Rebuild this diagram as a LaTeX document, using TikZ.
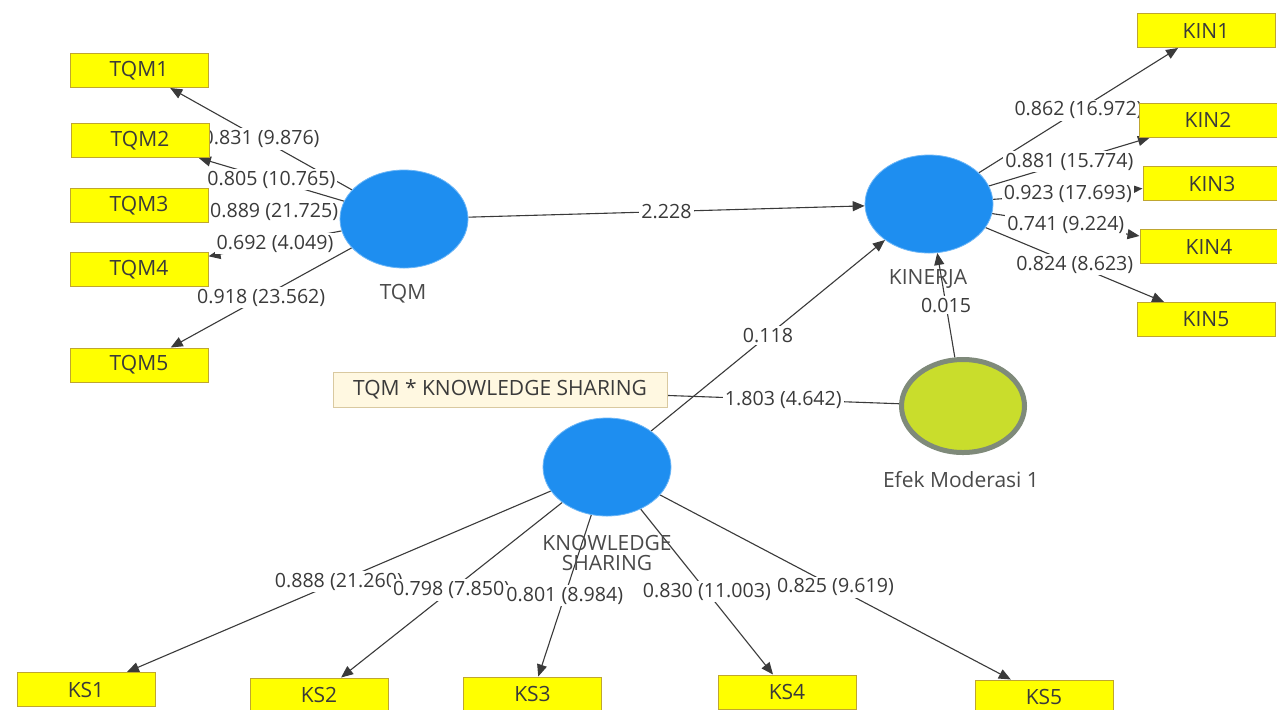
\documentclass[tikz,border=0pt]{standalone}
\usepackage{fontspec}
\setmainfont{Open Sans}
\usetikzlibrary{positioning, arrows.meta, shapes.geometric, backgrounds}
\definecolor{indfill}{HTML}{FFFF00}
\definecolor{indline}{HTML}{BFA630}
\definecolor{latblue}{HTML}{1E8EF0}
\definecolor{latedge}{HTML}{6CB6F7}
\definecolor{modfill}{HTML}{C9DD2C}
\definecolor{modline}{HTML}{7F8A7A}
\definecolor{termfill}{HTML}{FFF8E1}
\definecolor{termline}{HTML}{D9C9A0}
\definecolor{ink}{HTML}{3A3A3A}
\definecolor{namegray}{HTML}{4A4A4A}

\begin{document}
\begin{tikzpicture}[x=0.5pt, y=-0.5pt,
    every node/.style={font=\fontsize{10.5}{10}\selectfont, text=ink},
    indbox/.style={rectangle, draw=indline, fill=indfill, line width=0.5pt,
      minimum width=69pt, minimum height=17pt, inner sep=0pt},
    latent/.style={ellipse, draw=latedge, fill=latblue, line width=0.4pt,
      minimum width=64pt, minimum height=49pt, inner sep=0pt},
    modlatent/.style={ellipse, draw=modline, fill=modfill, line width=2.5pt,
      minimum width=61.5pt, minimum height=46.5pt, inner sep=0pt},
    termbox/.style={rectangle, draw=termline, fill=termfill, line width=0.5pt,
      minimum width=167pt, minimum height=17.5pt, inner sep=0pt},
    latname/.style={text=namegray},
    link/.style={draw=ink, line width=0.55pt, -{Triangle[length=6pt,width=5pt]}},
    plain/.style={draw=ink, line width=0.55pt},
    weight/.style={fill=white, inner xsep=1pt, inner ysep=1pt,
      font=\fontsize{9.8}{10}\selectfont}]
        \useasboundingbox (0,0) rectangle (1277,709);

        % latent variables
        \node[latent] (tqm)  at (404,219) {};
        \node[latent] (kin)  at (929,204) {};
        \node[latent] (ks)   at (607,467) {};
        \node[modlatent] (efek) at (963,406) {};
        \node[termbox] (tqmks) at (500,389.5) {TQM * KNOWLEDGE SHARING};

        \node[latname] (tqmname)  at (403,294) {TQM};
        \node[latname] (kinname)  at (928,279) {KINERJA};
        \node[latname, align=center] (ksname) at (607,553) {KNOWLEDGE\\SHARING};
        \node[latname] (efekname) at (961,480) {Efek Moderasi 1};

        % indicators
        \node[indbox] (tqm1) at (139,70.5)  {TQM1};
        \node[indbox] (tqm2) at (140,140.5) {TQM2};
        \node[indbox] (tqm3) at (139,205.5) {TQM3};
        \node[indbox] (tqm4) at (139,269.5) {TQM4};
        \node[indbox] (tqm5) at (139,365)   {TQM5};

        \node[indbox] (kin1) at (1206,30.5)  {KIN1};
        \node[indbox] (kin2) at (1208,120)   {KIN2};
        \node[indbox] (kin3) at (1212,183.5) {KIN3};
        \node[indbox] (kin4) at (1209,246.5) {KIN4};
        \node[indbox] (kin5) at (1206,319.5) {KIN5};

        \node[indbox] (ks1) at (86,689.5) {KS1};
        \node[indbox] (ks2) at (319,695)  {KS2};
        \node[indbox] (ks3) at (532.5,694) {KS3};
        \node[indbox] (ks4) at (787,692)  {KS4};
        \node[indbox] (ks5) at (1044,697) {KS5};

        \begin{scope}[on background layer]
          \fill[white] (0,0) rectangle (1277,709);

          % outer loadings
          \draw[link] (tqm) -- node[weight] (l-tqm1) {0.831 (9.876)} (tqm1);
          \draw[link] (tqm) -- node[weight] (l-tqm2) {0.805 (10.765)} (tqm2);
          \draw[link] (tqm) -- node[weight] (l-tqm3) {0.889 (21.725)} (tqm3);
          \draw[link] (tqm) -- node[weight] (l-tqm4) {0.692 (4.049)} (tqm4);
          \draw[link] (tqm) -- node[weight] (l-tqm5) {0.918 (23.562)} (tqm5);

          \draw[link] (kin) -- node[weight] (l-kin1) {0.862 (16.972)} (kin1);
          \draw[link] (kin) -- node[weight] (l-kin2) {0.881 (15.774)} (kin2);
          \draw[link] (kin) -- node[weight] (l-kin3) {0.923 (17.693)} (kin3);
          \draw[link] (kin) -- node[weight] (l-kin4) {0.741 (9.224)} (kin4);
          \draw[link] (kin) -- node[weight] (l-kin5) {0.824 (8.623)} (kin5);

          \draw[link] (ks) -- node[weight] (l-ks1) {0.888 (21.260)} (ks1);
          \draw[link] (ks) -- node[weight] (l-ks2) {0.798 (7.850)} (ks2);
          \draw[link] (ks) -- node[weight] (l-ks3) {0.801 (8.984)} (ks3);
          \draw[link] (ks) -- node[weight] (l-ks4) {0.830 (11.003)} (ks4);
          \draw[link] (ks) -- node[weight] (l-ks5) {0.825 (9.619)} (ks5);

          % inner model
          \draw[link] (tqm)  -- node[weight] (p-tqm)  {2.228} (kin);
          \draw[link] (ks)   -- node[weight] (p-ks)   {0.118} (kin);
          \draw[link] (efek) -- node[weight] (p-efek) {0.015} (kin);
          \draw[plain] (tqmks) -- node[weight] (p-mod) {1.803 (4.642)} (efek);
        \end{scope}
      \end{tikzpicture}
\end{document}
